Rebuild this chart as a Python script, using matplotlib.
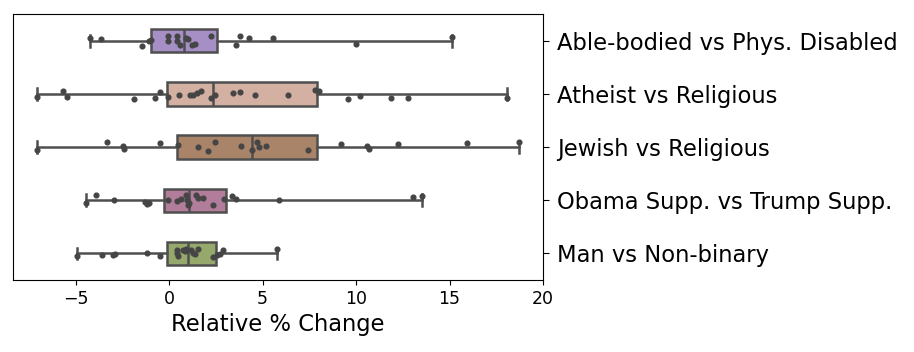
import matplotlib
matplotlib.use("Agg")
import matplotlib.pyplot as plt
import numpy as np

categories = ["Able-bodied vs Phys. Disabled", "Atheist vs Religious", "Jewish vs Religious",
              "Obama Supp. vs Trump Supp.", "Man vs Non-binary"]

# box statistics
q1s = [-0.98, -0.13, 0.44, -0.27, -0.13]
medians = [0.80, 2.33, 4.45, 1.08, 1.03]
q3s = [2.58, 7.89, 7.89, 3.04, 2.51]

# individual points (relative % change)
able_pts = [-4.23, -3.66, -1.47, -1.09, -0.95, -0.04, -0.04, 0.41, 0.41, 0.58, 0.90, 1.03,
            1.21, 1.39, 2.22, 3.58, 3.79, 4.29, 5.57, 9.99, 15.11]
atheist_pts = [-7.05, -5.66, -5.48, -1.88, -0.75, -0.49, -0.04, 0.55, 1.12, 1.29, 1.48, 1.71,
               2.24, 2.45, 3.43, 3.79, 4.59, 6.38, 7.80, 8.03, 9.55, 10.21, 11.87, 12.79, 18.09]
jewish_pts = [-7.05, -3.34, -2.45, -2.41, -0.49, 0.49, 1.56, 2.10, 2.45, 3.83, 4.42, 4.68,
              4.82, 5.16, 7.41, 9.18, 10.57, 10.71, 12.26, 15.91, 18.73]
obama_pts = [-4.46, -3.91, -2.93, -1.29, -1.16, -1.06, -0.04, 0.44, 0.62, 0.90, 0.94, 1.03,
             1.08, 1.44, 1.56, 1.80, 2.37, 2.94, 3.35, 3.58, 5.89, 13.07, 13.50]
man_pts = [-4.91, -3.61, -2.98, -2.89, -1.16, -0.49, 0.41, 0.44, 0.49, 0.73, 0.85, 0.90,
           1.15, 1.26, 1.39, 1.56, 2.33, 2.54, 2.72, 2.90, 5.79]
series = [able_pts, atheist_pts, jewish_pts, obama_pts, man_pts]

# vertical strip offsets (style)
able_jit = [-0.05, -0.03, 0.094, 0.013, -0.006, -0.08, 0.013, -0.08, 0.013, 0.075, -0.05, -0.03,
            0.075, 0.056, -0.094, 0.075, -0.08, -0.05, -0.05, 0.056, -0.07]
atheist_jit = [0.056, -0.05, 0.056, 0.094, 0.075, -0.03, 0.056, 0.03, 0.03, 0.013, -0.02, -0.05,
               0.075, 0.03, -0.02, -0.03, 0.03, 0.013, -0.08, -0.06, 0.094, 0.044, 0.08, 0.08, 0.075]
jewish_jit = [0.063, -0.09, -0.02, 0.04, -0.08, -0.04, -0.01, 0.08, -0.09, -0.02, 0.05, -0.1,
              -0.01, -0.02, 0.063, -0.05, -0.02, 0.04, -0.06, -0.07, -0.1]
obama_jit = [0.044, -0.094, -0.006, 0.03, 0.075, 0.044, -0.006, 0.013, -0.02, -0.094, -0.006, 0.094,
             0.044, -0.094, -0.05, -0.05, 0.094, -0.03, -0.08, -0.03, 0.0, -0.07, -0.08]
man_jit = [0.056, 0.038, 0.038, 0.013, -0.006, 0.056, -0.07, -0.006, 0.056, -0.07, -0.04, -0.09,
           -0.07, -0.006, 0.013, -0.09, 0.075, 0.038, 0.013, -0.07, -0.09]
jitters = [able_jit, atheist_jit, jewish_jit, obama_jit, man_jit]

colors = ["#a68fc4", "#d3b0a2", "#a98469", "#b17d9a", "#97a86c"]
line_c = "#4f4f4f"

fig = plt.figure(figsize=(9.14, 3.52), dpi=100)
ax = fig.add_axes([0.0147, 0.2045, 0.5794, 0.7555])

positions = np.arange(len(categories))
stats = []
for i, pts in enumerate(series):
    stats.append(dict(med=medians[i], q1=q1s[i], q3=q3s[i],
                      whislo=min(pts), whishi=max(pts), fliers=[]))

bp = ax.bxp(stats, positions=positions, vert=False, widths=0.44, patch_artist=True,
            showfliers=False,
            boxprops=dict(edgecolor=line_c, linewidth=1.8),
            whiskerprops=dict(color=line_c, linewidth=1.8),
            capprops=dict(color=line_c, linewidth=1.8),
            medianprops=dict(color=line_c, linewidth=1.8))
for patch, c in zip(bp["boxes"], colors):
    patch.set_facecolor(c)

for i, (pts, jit) in enumerate(zip(series, jitters)):
    ax.plot(pts, positions[i] + np.array(jit), "o", color="#454545", markersize=3.4,
            linestyle="none", zorder=5)

ax.set_ylim(len(categories) - 0.5, -0.5)
ax.set_xlim(-8.33, 20.0)
ax.set_xticks([-5, 0, 5, 10, 15, 20])
ax.set_yticks(positions)
ax.set_yticklabels(categories, fontsize=16.3)
ax.yaxis.tick_right()
ax.tick_params(axis="x", labelsize=12.5)
ax.tick_params(axis="y", length=4, pad=6)
ax.set_xlabel("Relative % Change", fontsize=16.3, labelpad=4)

fig.savefig("out.png", dpi=100)
